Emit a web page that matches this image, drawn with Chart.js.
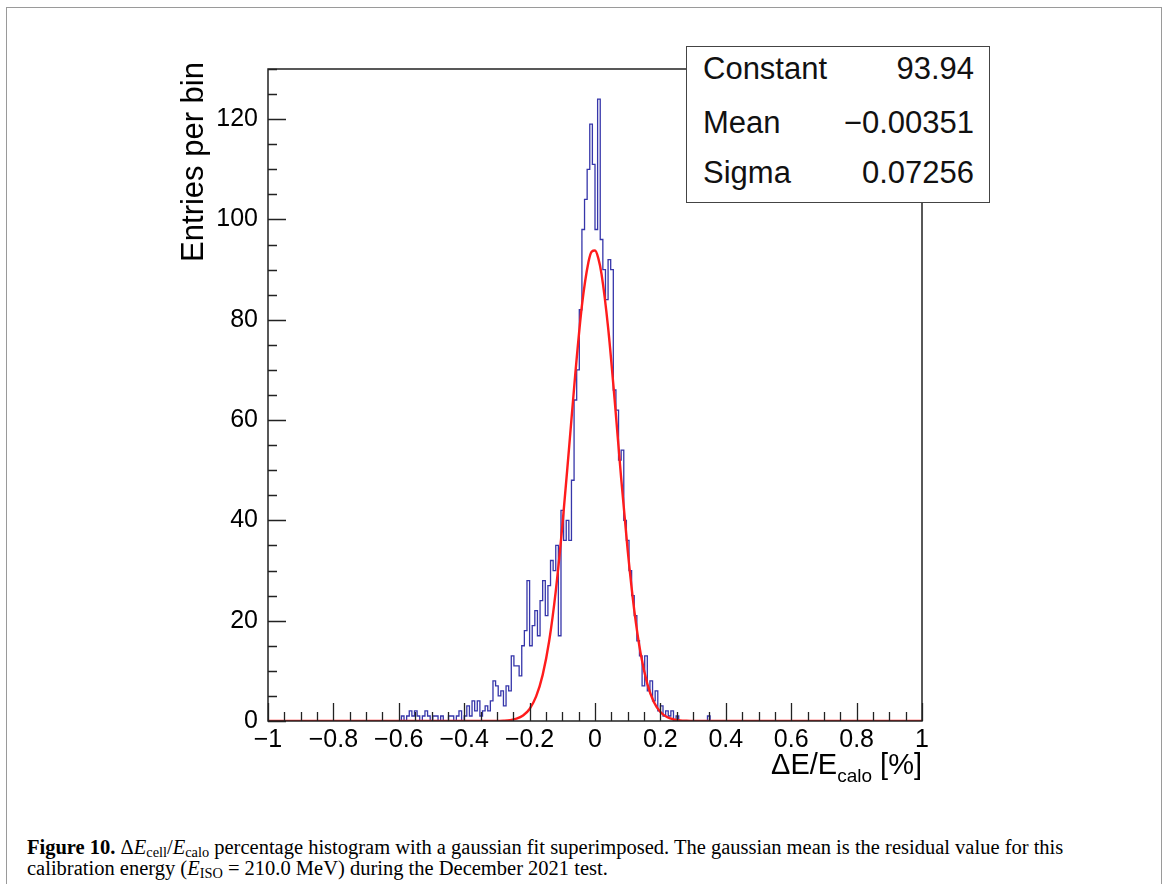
<!DOCTYPE html>
<html>
<head>
<meta charset="utf-8">
<script src="https://cdn.jsdelivr.net/npm/chart.js@4.4.1/dist/chart.umd.min.js"></script>
<style>
  html, body { margin: 0; padding: 0; background: #fff; }
  body { width: 1167px; height: 884px; position: relative; overflow: hidden; font-family: "Liberation Sans", Arial, sans-serif; color: #000; }
  #border { position: absolute; left: 6px; top: 7px; width: 1154px; height: 900px; border: 1px solid #9a9a9a; }
  #chart { position: absolute; left: 0; top: 0; }
  .ytitle { position: absolute; left: 177px; top: 362px; width: 300px; height: 31px; line-height: 31px; font-size: 31px;
            text-align: right; transform-origin: 0 0; transform: rotate(-90deg); white-space: nowrap; }
  .xtitle { position: absolute; right: 245px; top: 750px; font-size: 29px; line-height: 29px; white-space: nowrap; }
  .xtitle sub { font-size: 19px; vertical-align: -8px; line-height: 0; }
  #stats { position: absolute; left: 686px; top: 46px; width: 302px; height: 155px; border: 1.5px solid #444; background: #fff; }
  .row { position: absolute; left: 16px; right: 15px; font-size: 31px; line-height: 31px; color: #111; }
  .row .v { position: absolute; right: 0; top: 0; }
  #caption { position: absolute; left: 27px; top: 837px; font-family: "Liberation Serif", "DejaVu Serif", serif; font-size: 20.5px;
             line-height: 21px; white-space: nowrap; }
  #caption sub { font-size: 70%; vertical-align: -3px; line-height: 0; }
</style>
</head>
<body>
<div id="border"></div>
<canvas id="chart" width="1167" height="800"></canvas>
<div class="ytitle">Entries per bin</div>
<div class="xtitle">ΔE/E<sub>calo</sub> [%]</div>
<div id="stats">
  <div class="row" style="top:6px">Constant<span class="v">93.94</span></div>
  <div class="row" style="top:60px">Mean<span class="v">−0.00351</span></div>
  <div class="row" style="top:110px">Sigma<span class="v">0.07256</span></div>
</div>
<div id="caption"><b>Figure 10.</b> Δ<i>E</i><sub>cell</sub>/<i>E</i><sub>calo</sub> percentage histogram with a gaussian fit superimposed. The gaussian mean is the residual value for this<br>calibration energy (<i>E</i><sub>ISO</sub> = 210.0 MeV) during the December 2021 test.</div>

<script>
// histogram: bins of width 0.008 starting at -0.6 (everything outside is empty)
const binStart = -0.6;
const binWidth = 0.008;
const counts = [
  0, 1, 0, 1, 2, 1, 2, 1, 0, 1, 2, 1, 0, 1, 1, 0, 1, 0, 0, 1, 1, 0, 1, 2, 0,
  1, 3, 1, 4, 2, 4, 1, 2, 3, 2, 4, 8, 7, 5, 6, 3, 7, 6,
  13, 11, 11, 9, 15, 18, 28, 15, 19, 22, 17, 24, 28, 21, 27, 32, 30, 35, 17, 42, 36, 40, 36, 48, 64, 70, 82,
  98, 104, 110, 119, 111, 98, 124, 96,
  90, 84, 92, 90, 66, 62, 52, 54, 40, 36, 30, 25, 21, 16, 13, 7, 13, 6, 8, 4, 6, 2, 3, 1, 2, 1, 2, 0, 1,
  0, 0, 0, 0, 0, 0, 0, 0, 0, 0, 0, 1, 0
];

// gaussian fit curve
const fitX = [-1, -0.30, -0.28, -0.26, -0.24, -0.22, -0.20, -0.18, -0.16, -0.14, -0.12, -0.10, -0.08, -0.06, -0.04, -0.02, -0.01,
  0.00, 0.01, 0.02, 0.04, 0.06, 0.08, 0.10, 0.12, 0.14, 0.16, 0.18, 0.20, 0.22, 0.24, 0.26, 0.28, 0.30, 1];
const fitY = [0, 0.02, 0.07, 0.18, 0.46, 1.1, 2.4, 4.9, 9.2, 16.0, 25.9, 38.8, 53.9, 69.4, 82.8, 91.5, 93.6,
  93.8, 92.3, 89.1, 78.5, 64.1, 48.4, 34.0, 22.1, 13.3, 7.4, 3.8, 1.8, 0.8, 0.34, 0.13, 0.05, 0.01, 0];

const xMajorTicks = [-1, -0.8, -0.6, -0.4, -0.2, 0, 0.2, 0.4, 0.6, 0.8, 1];
const yMajorTicks = [0, 20, 40, 60, 80, 100, 120];

function isMajor(list, v) {
  return list.some((m) => Math.abs(m - v) < 1e-6);
}

function fmt(v) {
  const r = Math.round(v * 10) / 10;
  return String(r).replace("-", "\u2212");
}

const histPoints = [{ x: -1, y: 0 }];
counts.forEach((c, i) => histPoints.push({ x: binStart + i * binWidth, y: c }));
histPoints.push({ x: binStart + counts.length * binWidth, y: 0 });
histPoints.push({ x: 1, y: 0 });

const fitPoints = fitX.map((x, i) => ({ x: x, y: fitY[i] }));

// ROOT style frame with inward ticks
const rootFrame = {
  id: "rootFrame",
  afterDatasetsDraw(chart) {
    const { ctx, chartArea: a } = chart;
    const xs = chart.scales.x;
    const ys = chart.scales.y;
    ctx.save();
    ctx.strokeStyle = "#222";
    ctx.lineWidth = 1.3;
    ctx.beginPath();
    xs.ticks.forEach((t) => {
      const px = Math.round(xs.getPixelForValue(t.value)) + 0.5;
      const len = isMajor(xMajorTicks, t.value) ? 18 : 9;
      ctx.moveTo(px, a.bottom);
      ctx.lineTo(px, a.bottom - len);
    });
    ys.ticks.forEach((t) => {
      const py = Math.round(ys.getPixelForValue(t.value)) + 0.5;
      const len = isMajor(yMajorTicks, t.value) ? 18 : 9;
      ctx.moveTo(a.left, py);
      ctx.lineTo(a.left + len, py);
    });
    ctx.stroke();
    ctx.lineWidth = 1.5;
    ctx.strokeRect(a.left, a.top, a.right - a.left, a.bottom - a.top);
    ctx.restore();
  },
};

const tickFont = { family: "Liberation Sans", size: 25 };

new Chart(document.getElementById("chart"), {
  type: "line",
  data: {
    datasets: [
      {
        label: "fit",
        data: fitPoints,
        borderColor: "#ff1c1c",
        borderWidth: 2.4,
        pointRadius: 0,
        fill: false,
        cubicInterpolationMode: "monotone",
      },
      {
        label: "hist",
        data: histPoints,
        stepped: true,
        borderColor: "#3636aa",
        borderWidth: 1.3,
        pointRadius: 0,
        fill: false,
      },
    ],
  },
  options: {
    responsive: false,
    animation: false,
    layout: { padding: { left: 0, top: 69, right: 245, bottom: 0 } },
    plugins: { legend: { display: false }, tooltip: { enabled: false } },
    scales: {
      x: {
        type: "linear",
        min: -1,
        max: 1,
        afterFit(s) { s.height = 79; },
        grid: { display: false, drawTicks: false },
        border: { display: false },
        ticks: {
          stepSize: 0.05,
          autoSkip: false,
          maxRotation: 0,
          padding: 4,
          color: "#000",
          font: tickFont,
          callback: (v) => (isMajor(xMajorTicks, v) ? fmt(v) : ""),
        },
      },
      y: {
        min: 0,
        max: 130,
        afterFit(s) { s.width = 268; },
        grid: { display: false, drawTicks: false },
        border: { display: false },
        ticks: {
          stepSize: 5,
          autoSkip: false,
          padding: 10,
          color: "#000",
          font: tickFont,
          callback: (v) => (isMajor(yMajorTicks, v) ? String(v) : ""),
        },
      },
    },
  },
  plugins: [rootFrame],
});
</script>
</body>
</html>
